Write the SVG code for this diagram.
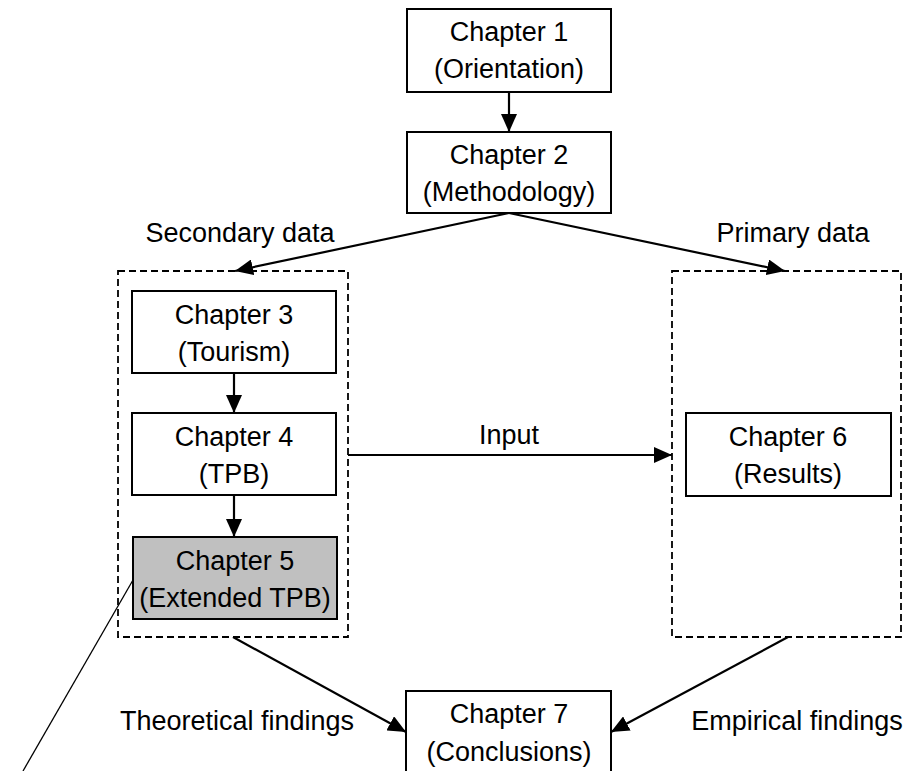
<svg xmlns="http://www.w3.org/2000/svg" width="910" height="771" viewBox="0 0 910 771">
  <style>
    .box { fill: #ffffff; stroke: #000000; stroke-width: 2; }
    .box.shaded { fill: #c0c0c0; }
    .group { fill: none; stroke: #000000; stroke-width: 1.8; stroke-dasharray: 7 4; }
    .t { font-family: "Liberation Sans", Arial, sans-serif; font-size: 27px; fill: #000000; text-anchor: middle; }
    .edge { fill: none; stroke: #000000; stroke-width: 2.2; }
    .thin { fill: none; stroke: #000000; stroke-width: 1.3; }
  </style>
  <defs>
    <marker id="arrow" viewBox="0 0 18 16" refX="18" refY="8" markerWidth="18" markerHeight="16" markerUnits="userSpaceOnUse" orient="auto">
      <path d="M0,0 L18,8 L0,16 Z" fill="#000000"/>
    </marker>
  </defs>

  <rect width="910" height="771" fill="#ffffff"/>

  <!-- data groupings -->
  <g id="secondary-data">
    <rect class="group" x="118" y="271" width="230" height="366"/>
    <text class="t" x="240" y="242">Secondary data</text>
  </g>
  <g id="primary-data">
    <rect class="group" x="672" y="271" width="229" height="366"/>
    <text class="t" x="793" y="242">Primary data</text>
  </g>

  <!-- chapters -->
  <g id="chapter1">
    <rect class="box" x="407" y="9" width="204" height="83"/>
    <text class="t" x="509" y="41">Chapter 1</text>
    <text class="t" x="509" y="78">(Orientation)</text>
  </g>
  <g id="chapter2">
    <rect class="box" x="407" y="132" width="204" height="81"/>
    <text class="t" x="509" y="164">Chapter 2</text>
    <text class="t" x="509" y="201">(Methodology)</text>
  </g>
  <g id="chapter3">
    <rect class="box" x="132" y="291" width="204" height="82"/>
    <text class="t" x="234" y="324">Chapter 3</text>
    <text class="t" x="234" y="361">(Tourism)</text>
  </g>
  <g id="chapter4">
    <rect class="box" x="132" y="413" width="204" height="82"/>
    <text class="t" x="234" y="446">Chapter 4</text>
    <text class="t" x="234" y="483">(TPB)</text>
  </g>
  <g id="chapter5">
    <rect class="box shaded" x="133" y="537" width="204" height="82"/>
    <text class="t" x="235" y="570">Chapter 5</text>
    <text class="t" x="235" y="607">(Extended TPB)</text>
  </g>
  <g id="chapter6">
    <rect class="box" x="686" y="413" width="205" height="83"/>
    <text class="t" x="788" y="446">Chapter 6</text>
    <text class="t" x="788" y="483">(Results)</text>
  </g>
  <g id="chapter7">
    <rect class="box" x="406" y="691" width="205" height="90"/>
    <text class="t" x="509" y="723">Chapter 7</text>
    <text class="t" x="509" y="761">(Conclusions)</text>
  </g>

  <!-- connectors -->
  <g id="connectors">
    <line class="edge" x1="509" y1="92" x2="509" y2="132" marker-end="url(#arrow)"/>
    <line class="edge" x1="509" y1="213" x2="235" y2="271" marker-end="url(#arrow)"/>
    <line class="edge" x1="509" y1="213" x2="785" y2="271" marker-end="url(#arrow)"/>
    <line class="edge" x1="234" y1="373" x2="234" y2="413" marker-end="url(#arrow)"/>
    <line class="edge" x1="234" y1="495" x2="234" y2="537" marker-end="url(#arrow)"/>
    <line class="edge" x1="348" y1="455" x2="672" y2="455" marker-end="url(#arrow)"/>
    <text class="t" x="509" y="444">Input</text>
    <line class="edge" x1="233" y1="637" x2="406" y2="732" marker-end="url(#arrow)"/>
    <line class="edge" x1="788" y1="637" x2="611" y2="732" marker-end="url(#arrow)"/>
    <text class="t" x="237" y="730">Theoretical findings</text>
    <text class="t" x="797" y="730">Empirical findings</text>
    <line class="thin" x1="133" y1="580" x2="23" y2="771"/>
  </g>
</svg>
